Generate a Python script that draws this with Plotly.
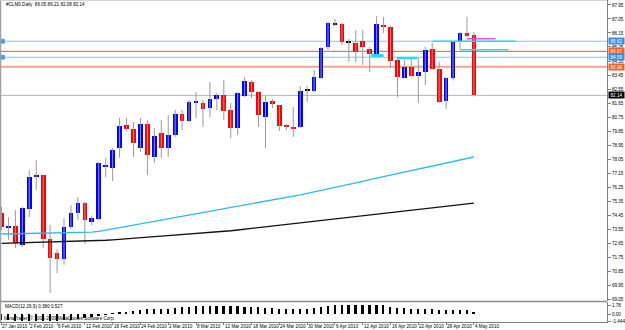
import plotly.graph_objects as go

# ---------------- data ----------------
dates = ["27 Jan 2010", "28 Jan 2010", "29 Jan 2010",
         "1 Feb 2010", "2 Feb 2010", "3 Feb 2010", "4 Feb 2010", "5 Feb 2010",
         "8 Feb 2010", "9 Feb 2010", "10 Feb 2010", "11 Feb 2010", "12 Feb 2010",
         "15 Feb 2010", "16 Feb 2010", "17 Feb 2010", "18 Feb 2010", "19 Feb 2010",
         "22 Feb 2010", "23 Feb 2010", "24 Feb 2010", "25 Feb 2010", "26 Feb 2010",
         "1 Mar 2010", "2 Mar 2010", "3 Mar 2010", "4 Mar 2010", "5 Mar 2010",
         "8 Mar 2010", "9 Mar 2010", "10 Mar 2010", "11 Mar 2010", "12 Mar 2010",
         "15 Mar 2010", "16 Mar 2010", "17 Mar 2010", "18 Mar 2010", "19 Mar 2010",
         "22 Mar 2010", "23 Mar 2010", "24 Mar 2010", "25 Mar 2010", "26 Mar 2010",
         "29 Mar 2010", "30 Mar 2010", "31 Mar 2010", "1 Apr 2010",
         "5 Apr 2010", "6 Apr 2010", "7 Apr 2010", "8 Apr 2010", "9 Apr 2010",
         "12 Apr 2010", "13 Apr 2010", "14 Apr 2010", "15 Apr 2010", "16 Apr 2010",
         "19 Apr 2010", "20 Apr 2010", "21 Apr 2010", "22 Apr 2010", "23 Apr 2010",
         "26 Apr 2010", "27 Apr 2010", "28 Apr 2010", "29 Apr 2010", "30 Apr 2010",
         "3 May 2010", "4 May 2010"]

opens = [74.58, 73.64, 73.75, 72.52, 74.84, 76.89, 77.02, 72.91, 72.01, 71.62,
         73.68, 74.58, 75.23, 74.00, 74.19, 77.54, 77.47, 78.76, 80.24, 79.98,
         78.76, 80.30, 78.18, 79.72, 78.76, 79.59, 80.94, 80.49, 81.65, 81.65,
         81.33, 81.91, 82.16, 81.20, 80.04, 82.10, 83.00, 82.36, 80.75, 81.78,
         81.52, 80.17, 80.11, 80.11, 82.47, 82.42, 83.26, 85.25, 86.73, 86.73,
         85.57, 85.51, 85.64, 85.12, 84.80, 86.66, 86.53, 84.41, 83.26, 83.96,
         83.39, 83.64, 85.12, 83.84, 81.78, 83.26, 85.57, 86.15, 86.05]
highs = [74.97, 74.32, 74.77, 74.97, 77.34, 77.99, 77.05, 73.81, 72.27, 74.26,
         75.10, 75.61, 75.30, 74.40, 77.85, 78.12, 78.76, 80.69, 80.69, 80.43,
         80.69, 80.56, 80.04, 80.56, 80.88, 81.20, 81.20, 81.84, 82.36, 81.84,
         83.00, 82.29, 83.13, 81.65, 82.35, 83.32, 83.13, 82.40, 82.10, 81.91,
         81.55, 80.30, 81.39, 82.74, 82.74, 83.77, 85.25, 86.86, 87.05, 86.80,
         85.76, 86.34, 86.34, 85.25, 87.24, 87.18, 86.60, 84.61, 84.41, 84.54,
         84.54, 85.25, 85.51, 84.29, 83.30, 85.60, 86.20, 87.18, 86.21]
lows = [73.49, 72.85, 72.33, 72.40, 74.32, 76.06, 72.33, 69.44, 70.72, 71.24,
        73.55, 74.13, 72.59, 73.80, 74.13, 76.89, 76.64, 78.12, 79.85, 78.18,
        78.50, 77.02, 77.79, 78.12, 78.18, 79.47, 79.92, 80.43, 80.69, 80.11,
        80.75, 81.20, 80.56, 79.40, 79.59, 82.04, 81.97, 80.11, 78.76, 81.33,
        79.85, 79.90, 79.47, 80.05, 81.71, 82.36, 83.20, 85.06, 86.60, 85.38,
        84.29, 84.29, 84.09, 83.64, 84.75, 86.15, 83.90, 82.04, 83.20, 83.32,
        81.65, 82.81, 83.80, 81.65, 81.27, 83.10, 85.12, 85.89, 82.08]
closes = [73.68, 73.77, 72.65, 74.90, 76.89, 77.02, 72.91, 71.69, 71.62, 73.68,
          74.58, 75.23, 74.13, 74.26, 77.79, 77.67, 78.63, 80.17, 79.98, 79.08,
          80.30, 78.31, 79.53, 78.76, 79.59, 80.94, 80.49, 81.71, 81.78, 81.27,
          81.91, 82.16, 81.14, 80.04, 82.29, 83.06, 82.36, 80.88, 81.71, 81.59,
          80.17, 80.11, 80.04, 82.42, 82.48, 83.32, 85.18, 86.79, 86.72, 85.57,
          85.56, 84.93, 85.25, 84.80, 86.73, 86.53, 84.35, 83.32, 83.96, 83.39,
          83.64, 85.06, 83.84, 81.71, 83.26, 85.57, 86.15, 85.96, 82.14]

ma_fast = [73.23, 73.24, 73.24, 73.25, 73.26, 73.26, 73.27, 73.28, 73.28, 73.29,
           73.30, 73.30, 73.32, 73.35, 73.40, 73.47, 73.55, 73.64, 73.72, 73.80,
           73.88, 73.96, 74.04, 74.12, 74.20, 74.29, 74.37, 74.45, 74.53, 74.61,
           74.69, 74.77, 74.85, 74.94, 75.02, 75.10, 75.18, 75.26, 75.34, 75.42,
           75.50, 75.59, 75.67, 75.75, 75.85, 75.94, 76.04, 76.14, 76.24, 76.33,
           76.43, 76.53, 76.62, 76.72, 76.82, 76.92, 77.01, 77.11, 77.21, 77.30,
           77.40, 77.50, 77.60, 77.69, 77.79, 77.89, 77.98, 78.08, 78.18]
ma_slow = [72.63, 72.64, 72.65, 72.67, 72.68, 72.69, 72.70, 72.72, 72.73, 72.74,
           72.75, 72.76, 72.78, 72.79, 72.80, 72.83, 72.86, 72.90, 72.93, 72.96,
           72.99, 73.02, 73.06, 73.09, 73.12, 73.16, 73.19, 73.23, 73.26, 73.30,
           73.33, 73.37, 73.40, 73.44, 73.49, 73.54, 73.59, 73.63, 73.68, 73.73,
           73.78, 73.82, 73.87, 73.92, 73.97, 74.02, 74.08, 74.13, 74.18, 74.23,
           74.28, 74.34, 74.39, 74.44, 74.49, 74.54, 74.60, 74.65, 74.70, 74.75,
           74.80, 74.86, 74.91, 74.96, 75.01, 75.06, 75.12, 75.17, 75.22]

macd = [-1.20, -1.25, -1.30, -1.35, -1.40, -1.44, -1.44, -1.40, -1.35, -1.25,
        -1.15, -1.00, -0.85, -0.65, -0.40, -0.08, 0.18, 0.31, 0.49, 0.61,
        0.74, 0.92, 0.98, 0.98, 1.10, 1.23, 1.35, 1.47, 1.53, 1.53,
        1.60, 1.60, 1.60, 1.66, 1.66, 1.47, 1.47, 1.35, 1.23, 1.23,
        1.04, 0.98, 0.98, 1.04, 1.10, 1.23, 1.35, 1.53, 1.78, 1.78,
        1.78, 1.78, 1.72, 1.72, 1.72, 1.78, 1.41, 1.29, 1.23, 1.10,
        0.98, 0.92, 0.92, 0.74, 0.74, 0.80, 0.80, 0.74, 0.38]
macd_main_last = 0.380
macd_signal_last = 0.527

price_ticks = [87.95, 87.05, 86.15, 85.25, 84.35, 83.45, 82.55, 81.65, 80.75,
               79.85, 78.95, 78.05, 77.15, 76.25, 75.35, 74.45, 73.55, 72.65,
               71.75, 70.85, 69.95, 69.05]
macd_ticks = [1.78, 0.00, -1.444]
macd_tick_text = ["1.78", "0.00", "-1.444"]

# horizontal line objects
hline_prices = [85.62, 84.97, 84.59, 83.98, 82.14]
hline_colors = ["#8EC1F0", "#E8602C", "#8EC1F0", "#F6A688", "#A9B9B9"]
hline_widths = [1, 1, 1, 2, 1]
hline_box_colors = ["#3C8CE6", "#F0602A", "#3C8CE6", "#F0602A", "#000000"]

# short trend-line objects
seg_start = [53.2, 57.0, 62.0, 66.0, 67.0]
seg_end = [55.0, 59.9, 74.0, 73.0, 71.1]
seg_price = [84.70, 84.54, 85.62, 85.08, 85.78]
seg_color = ["#22DDEE", "#22DDEE", "#22DDEE", "#22DDEE", "#FF44DD"]
seg_width = [3, 2.5, 1.5, 1.5, 1.5]

symbol = "#CLM0,Daily"

# ---------------- figure ----------------
n = len(dates)
idx = list(range(n))
W, H = 625, 330
ML, MR, MT, MB = 0, 16, 0, 8
PW, PH = W - ML - MR, H - MT - MB
main_bottom_px = 301
macd_top_px = 302
FONT = "Liberation Sans"

fig = go.Figure()

# wicks
wx, wy = [], []
for i in idx:
    wx += [i, i, None]
    wy += [lows[i], highs[i], None]
fig.add_trace(go.Scatter(x=wx, y=wy, mode="lines", line=dict(color="#9a9a9a", width=1),
                         hoverinfo="skip", showlegend=False, yaxis="y"))

# bodies
bases, heights, colors = [], [], []
for o, c in zip(opens, closes):
    bases.append(min(o, c))
    heights.append(max(abs(c - o), 0.065))
    if c > o + 0.02:
        colors.append("#0000FF")
    elif c < o - 0.02:
        colors.append("#FF0000")
    else:
        colors.append("#000000")
fig.add_trace(go.Bar(x=idx, y=heights, base=bases, width=0.68, marker_color=colors,
                     marker_line_width=0, showlegend=False, yaxis="y"))

# moving averages
fig.add_trace(go.Scatter(x=idx, y=ma_fast, mode="lines", line=dict(color="#2EB8F0", width=1.3),
                         showlegend=False, yaxis="y"))
fig.add_trace(go.Scatter(x=idx, y=ma_slow, mode="lines", line=dict(color="#111111", width=1.3),
                         showlegend=False, yaxis="y"))

# trend segments
for s, e, p, c, w in zip(seg_start, seg_end, seg_price, seg_color, seg_width):
    fig.add_trace(go.Scatter(x=[s, e], y=[p, p], mode="lines", line=dict(color=c, width=w),
                             showlegend=False, yaxis="y"))

# MACD histogram
fig.add_trace(go.Bar(x=idx, y=macd, width=0.26, marker_color="#000000", marker_line_width=0,
                     showlegend=False, yaxis="y2"))

x0 = -0.215
x1 = x0 + PW / 6.97

# anchor squares on blue horizontal lines
fig.add_trace(go.Scatter(x=[x0 + 0.35, x0 + 0.35], y=[hline_prices[0], hline_prices[2]],
                         mode="markers", marker=dict(symbol="square", size=4, color="#4F9BE8",
                                                     line=dict(color="#2F7AD0", width=0.5)),
                         showlegend=False, yaxis="y"))

shapes = []
for p, c, w in zip(hline_prices, hline_colors, hline_widths):
    shapes.append(dict(type="line", xref="x domain", x0=0, x1=1, yref="y", y0=p, y1=p,
                       line=dict(color=c, width=w), layer="below"))

# frame / separators
def py(px):
    return 1 - px / PH

shapes.append(dict(type="line", xref="paper", x0=0, x1=1, yref="paper",
                   y0=py(301.5), y1=py(301.5), line=dict(color="#8a8a8a", width=1.5)))
shapes.append(dict(type="line", xref="paper", x0=0.0008, x1=0.0008, yref="paper",
                   y0=0, y1=1, line=dict(color="#a0a0a0", width=1.5)))
shapes.append(dict(type="line", xref="paper", x0=0, x1=1, yref="paper",
                   y0=0.999, y1=0.999, line=dict(color="#c8c8c8", width=1)))

annotations = []
annotations.append(dict(text=f"{symbol}  {opens[-1]:.2f} {highs[-1]:.2f} {lows[-1]:.2f} {closes[-1]:.2f}",
                        xref="paper", yref="paper", x=4 / PW, y=py(5), xanchor="left",
                        yanchor="middle", showarrow=False, font=dict(size=4.6, color="#000", family=FONT)))
annotations.append(dict(text=f"MACD(12,26,9) {macd_main_last:.3f} {macd_signal_last:.3f}",
                        xref="paper", yref="paper", x=3 / PW, y=py(306.5), xanchor="left",
                        yanchor="middle", showarrow=False, font=dict(size=4.6, color="#000", family=FONT)))
annotations.append(dict(text="MetaTrader, © 2001-2009 MetaQuotes Software Corp.",
                        xref="paper", yref="paper", x=2 / PW, y=py(317.5), xanchor="left",
                        yanchor="middle", showarrow=False, font=dict(size=4.6, color="#000", family=FONT)))
for i in range(0, n, 4):
    annotations.append(dict(text=dates[i], xref="x", x=i, yref="paper", y=0, yshift=-4.5,
                            xanchor="left", yanchor="middle", xshift=-1, showarrow=False,
                            font=dict(size=4.6, color="#000", family=FONT)))
for p, c in zip(hline_prices, hline_box_colors):
    annotations.append(dict(text=f"{p:.2f}", xref="paper", x=1, xanchor="left", xshift=1,
                            yref="y", y=p, yanchor="middle", showarrow=False, bgcolor=c,
                            borderpad=0, width=15, height=6,
                            font=dict(size=4.6, color="#FFFFFF", family=FONT)))

fig.update_layout(
    width=W, height=H,
    margin=dict(l=ML, r=MR, t=MT, b=MB, pad=0),
    paper_bgcolor="white", plot_bgcolor="white",
    barmode="overlay", bargap=0, showlegend=False,
    shapes=shapes, annotations=annotations,
    xaxis=dict(range=[x0, x1], anchor="y2", showgrid=False, zeroline=False,
               showticklabels=False, ticks="outside", ticklen=2, tickcolor="#808080",
               tickvals=list(range(0, n, 4)), showline=True, linecolor="#808080", linewidth=1),
    yaxis=dict(domain=[(PH - main_bottom_px) / PH, 1], range=[88.27 - main_bottom_px / 15.56, 88.27],
               side="right", anchor="x", showgrid=False, zeroline=False,
               tickvals=price_ticks, ticktext=[f"{v:.2f}" for v in price_ticks],
               ticks="outside", ticklen=3, tickcolor="#808080",
               showline=True, linecolor="#808080", linewidth=1,
               tickfont=dict(size=4.6, color="#000", family=FONT)),
    yaxis2=dict(domain=[0, (PH - macd_top_px) / PH], range=[-1.6, 2.4],
                side="right", anchor="x", showgrid=False, zeroline=False,
                tickvals=macd_ticks, ticktext=macd_tick_text,
                ticks="outside", ticklen=3, tickcolor="#808080",
                showline=True, linecolor="#808080", linewidth=1,
                tickfont=dict(size=4.6, color="#000", family=FONT)),
)

fig.write_html("out.html")
